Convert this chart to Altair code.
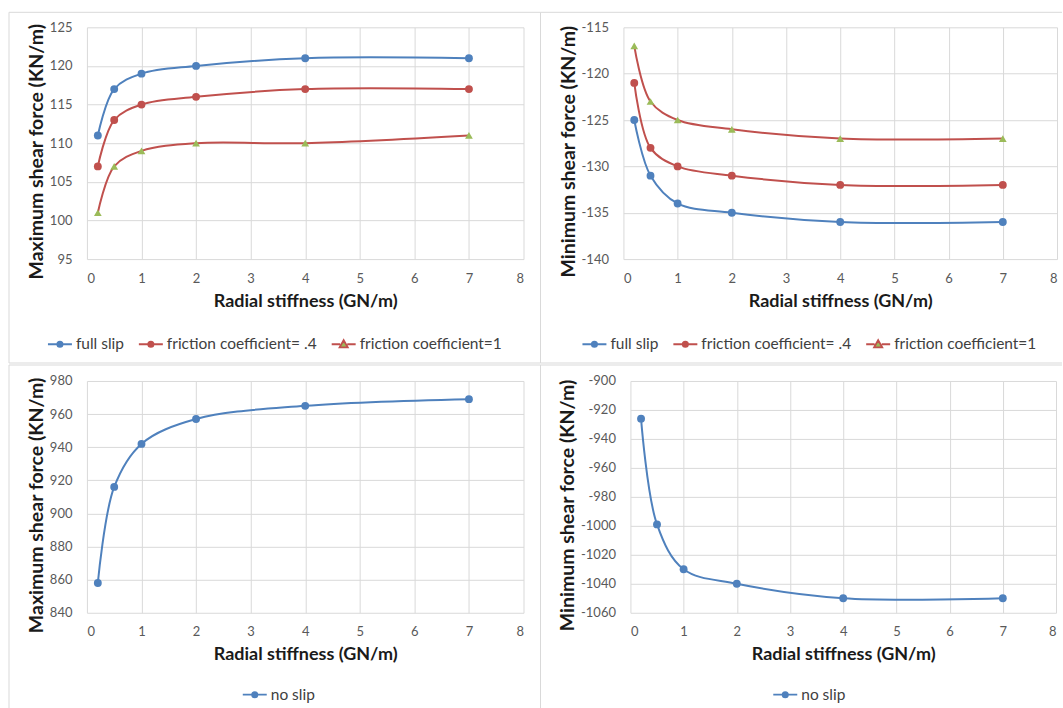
import altair as alt
import pandas as pd

# ---------------- data ----------------
x_stiffness = [0.2, 0.5, 1, 2, 4, 7]
x_ticks = [0, 1, 2, 3, 4, 5, 6, 7, 8]

series_top = ["full slip", "friction coefficient= .4", "friction coefficient=1"]
max_full_slip = [111, 117, 119, 120, 121, 121]
max_friction_04 = [107, 113, 115, 116, 117, 117]
max_friction_1 = [101, 107, 109, 110, 110, 111]

min_full_slip = [-125, -131, -134, -135, -136, -136]
min_friction_04 = [-121, -128, -130, -131, -132, -132]
min_friction_1 = [-117, -123, -125, -126, -127, -127]

series_bottom = ["no slip"]
max_no_slip = [858, 916, 942, 957, 965, 969]
min_no_slip = [-926, -999, -1030, -1040, -1050, -1050]

max_top_ticks = [95, 100, 105, 110, 115, 120, 125]
min_top_ticks = [-140, -135, -130, -125, -120, -115]
max_bottom_ticks = [840, 860, 880, 900, 920, 940, 960, 980]
min_bottom_ticks = [-1060, -1040, -1020, -1000, -980, -960, -940, -920, -900]

X_TITLE = "Radial stiffness (GN/m)"
Y_MAX_TITLE = "Maximum shear force (KN/m)"
Y_MIN_TITLE = "Minimum shear force (KN/m)"

# ---------------- style ----------------
BLUE = "#4F81BD"
RED = "#C0504D"
GREEN = "#9BBB59"
FRAME = "#D9D9D9"
GRID = "#D9D9D9"
FONT = "Lato"

line_colors_top = [BLUE, RED, RED]
marker_colors_top = [BLUE, RED, GREEN]
marker_shapes_top = ["circle", "circle", "triangle-up"]
line_colors_bottom = [BLUE]
marker_colors_bottom = [BLUE]
marker_shapes_bottom = ["circle"]

LEG_CIRCLE = "M-1,0L1,0M0.22,0A0.22,0.22,0,1,1,-0.22,0A0.22,0.22,0,1,1,0.22,0Z"
LEG_TRIANGLE = "M-1,0L-0.3,0M0.3,0L1,0M0,-0.34L0.34,0.26L-0.34,0.26Z"


def ternary(names, values):
    expr = "'" + values[-1] + "'"
    for n, v in reversed(list(zip(names[:-1], values[:-1]))):
        expr = "datum.value === '" + n + "' ? '" + v + "' : " + expr
    return expr


def panel(names, series_values, line_cols, marker_cols, shapes, y_title, y_ticks,
          width, height, rules, legend_x, legend_y):
    rows = []
    for name, vals in zip(names, series_values):
        for xv, yv in zip(x_stiffness, vals):
            rows.append({"x": xv, "y": yv, "series": name})
    df = pd.DataFrame(rows)

    xaxis = alt.Axis(
        values=x_ticks, title=X_TITLE, labelExpr="'' + datum.value",
        grid=True, gridColor=GRID, gridWidth=1, domain=False, ticks=False,
        labelFont=FONT, labelFontSize=13, labelColor="#595959", labelPadding=13,
        titleFont=FONT, titleFontSize=18, titleFontWeight="bold", titleColor="#1a1a1a",
        titlePadding=7,
    )
    yaxis = alt.Axis(
        values=y_ticks, title=y_title, labelExpr="'' + datum.value",
        grid=True, gridColor=GRID, gridWidth=1, domain=False, ticks=False,
        labelFont=FONT, labelFontSize=13, labelColor="#595959", labelPadding=15,
        titleFont=FONT, titleFontSize=19.5, titleFontWeight="bold", titleColor="#1a1a1a",
        titlePadding=3, titleY=124,
    )
    xenc = alt.X("x:Q", scale=alt.Scale(domain=[0, 8], nice=False, zero=False), axis=xaxis)
    yenc = alt.Y("y:Q", scale=alt.Scale(domain=[y_ticks[0], y_ticks[-1]], nice=False, zero=False), axis=yaxis)
    base = alt.Chart(df).encode(x=xenc, y=yenc)

    leg_shapes = [LEG_TRIANGLE if s.startswith("triangle") else LEG_CIRCLE for s in shapes]
    legend = alt.Legend(
        title=None, orient="none", legendX=legend_x, legendY=legend_y,
        direction="horizontal", symbolSize=576, symbolStrokeWidth=1.8,
        symbolType={"expr": ternary(names, leg_shapes)},
        symbolFillColor={"expr": ternary(names, marker_cols)},
        symbolStrokeColor={"expr": ternary(names, line_cols)},
        symbolOpacity=1,
        labelFont=FONT, labelFontSize=15.5, labelColor="#404040", labelOffset=3,
        columnPadding=10, labelLimit=400,
    )

    line = base.mark_line(interpolate="catmull-rom", strokeWidth=2).encode(
        stroke=alt.Stroke("series:N", scale=alt.Scale(domain=names, range=line_cols), legend=legend)
    )
    fill_scale = alt.Scale(domain=names, range=marker_cols)
    point_layers = []
    for shp in sorted(set(shapes)):
        members = [n for n, s in zip(names, shapes) if s == shp]
        point_layers.append(
            base.transform_filter(alt.FieldOneOfPredicate(field="series", oneOf=members))
            .mark_point(filled=True, opacity=1, size=62 if shp == "circle" else 60, shape=shp)
            .encode(fill=alt.Fill("series:N", scale=fill_scale, legend=None))
        )

    one = pd.DataFrame({"k": [0]})
    frames = []
    for (x1, x2, y1, y2) in rules:
        frames.append(
            alt.Chart(one).mark_rule(color=FRAME, strokeWidth=1).encode(
                x=alt.value(x1), x2=alt.value(x2), y=alt.value(y1), y2=alt.value(y2)
            )
        )
    return alt.layer(*frames, line, *point_layers).properties(width=width, height=height)


p1 = panel(series_top, [max_full_slip, max_friction_04, max_friction_1],
           line_colors_top, marker_colors_top, marker_shapes_top, Y_MAX_TITLE, max_top_ticks,
           437, 232,
           [(-78, -78, -15, 336), (-78, 454, -15, -15), (-78, 454, 336, 336)],
           -40, 304)
p2 = panel(series_top, [min_full_slip, min_friction_04, min_friction_1],
           line_colors_top, marker_colors_top, marker_shapes_top, Y_MIN_TITLE, min_top_ticks,
           434, 232,
           [(-83, -83, -15, 336), (-83, 439, -15, -15), (-83, 439, 336, 336)],
           -42, 304)
p3 = panel(series_bottom, [max_no_slip],
           line_colors_bottom, marker_colors_bottom, marker_shapes_bottom, Y_MAX_TITLE, max_bottom_ticks,
           437, 232,
           [(-78, -78, -16, 329), (-78, 454, -16, -16)],
           155, 301)
p4 = panel(series_bottom, [min_no_slip],
           line_colors_bottom, marker_colors_bottom, marker_shapes_bottom, Y_MIN_TITLE, min_bottom_ticks,
           426, 232,
           [(-90, -90, -16, 329), (-90, 432, -16, -16)],
           142, 301)

row1 = alt.hconcat(p1, p2, spacing=100, bounds="flush").resolve_scale(stroke="independent", fill="independent")
row2 = alt.hconcat(p3, p4, spacing=107, bounds="flush").resolve_scale(stroke="independent", fill="independent")

chart = alt.vconcat(row1, row2, spacing=0).resolve_scale(
    stroke="independent", fill="independent"
).properties(
    padding={"left": 8, "top": 11, "right": 0, "bottom": 0}
).configure_view(
    strokeWidth=0
)

chart.save("out.html", embed_options={"renderer": "svg", "actions": False})
